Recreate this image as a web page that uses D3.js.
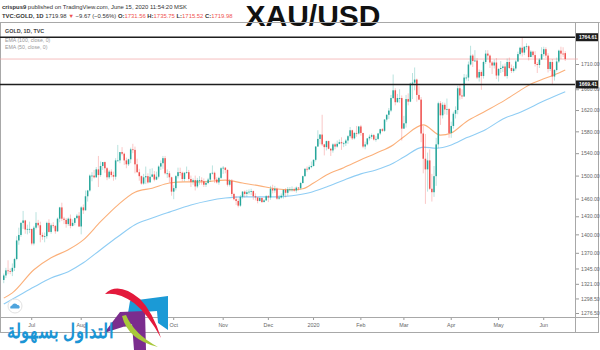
<!DOCTYPE html>
<html>
<head>
<meta charset="utf-8">
<title>XAU/USD</title>
<style>
body { margin: 0; background-color: #ffffff; }
svg text { font-family: "Liberation Sans", Arial, sans-serif; }
</style>
</head>
<body>
<script src="https://cdn.jsdelivr.net/npm/d3@7"></script>
<script>

// daily candles, 12 Jun 2019 .. 15 Jun 2020 (weekdays, no bar on 25 Dec / 1 Jan)
var startDate = "2019-06-12";
var holidays = ["2019-12-25", "2020-01-01"];

var opens = [1327,1334,1342,1341,1340,1346,1360,1390,1399,1419,1423,1408,1409,
  1409,1385,1411,1419,1415,1399,1396,1397,1419,1404,1415,1414,1405,1426,1445,1426,1424,1417,1426,1414,1419,1427,1431,
  1413,1445,1440,1464,1474,1500,1500,1497,1511,1501,1517,1524,1513,1497,1507,1501,1498,1527,1527,1542,1539,1527,
  1520,1529,1547,1546,1520,1506,1499,1486,1497,1499,1488,1498,1502,1493,1498,1516,1522,1531,1504,1504,1497,
  1472,1478,1499,1506,1505,1494,1505,1506,1494,1489,1492,1481,1492,1492,1490,1484,1487,1493,1504,1505,1493,1488,1496,
  1513,1514,1510,1484,1491,1468,1459,1456,1448,1463,1472,1468,1471,1472,1473,1464,1462,1456,1461,1454,1457,
  1464,1462,1477,1474,1477,1460,1462,1465,1475,1470,1476,1476,1476,1474,1479,1478,1487,1499,1512,1511,1515,
  1517,1528,1552,1566,1574,1556,1551,1562,1548,1545,1556,1552,1557,1560,1558,1558,1563,1571,1582,1567,1577,1576,
  1589,1577,1552,1556,1567,1570,1573,1565,1566,1576,1584,1581,1602,1611,1619,1643,1658,1635,1643,1643,
  1585,1595,1641,1636,1671,1673,1679,1649,1640,1576,1530,1511,1527,1477,1471,1499,1556,1633,1610,1630,1621,1622,
  1577,1590,1613,1620,1662,1648,1646,1683,1683,1709,1727,1716,1717,1683,1694,1686,1714,1731,1727,1713,1707,1713,
  1687,1700,1702,1705,1686,1714,1702,1696,1701,1715,1730,1743,1733,1745,1746,1724,1735,1728,1710,1708,1719,
  1730,1740,1727,1700,1714,1685,1698,1715,1737,1731,1732];
var highs = [1337,1346,1358,1345,1353,1362,1397,1411,1420,1439,1424,1416,1421,
  1409,1414,1437,1424,1421,1403,1403,1421,1425,1418,1420,1415,1428,1446,1453,1429,1427,1428,1433,1425,1428,1434,1437,
  1447,1450,1474,1475,1502,1506,1510,1515,1535,1525,1524,1525,1515,1510,1511,1507,1531,1555,1542,1551,1541,1532,
  1530,1550,1557,1552,1530,1512,1500,1503,1516,1504,1512,1513,1508,1507,1518,1527,1535,1535,1511,1508,1498,
  1483,1501,1514,1514,1507,1506,1516,1510,1500,1495,1500,1496,1499,1497,1495,1491,1496,1505,1518,1507,1497,1498,1515,
  1517,1515,1511,1494,1494,1470,1464,1460,1466,1473,1474,1475,1476,1477,1474,1469,1462,1463,1462,1459,1466,
  1466,1482,1484,1482,1479,1466,1469,1476,1478,1480,1480,1481,1479,1481,1480,1489,1500,1513,1516,1518,1525,
  1529,1553,1582,1575,1611,1557,1563,1563,1549,1558,1559,1563,1565,1569,1561,1566,1573,1588,1583,1579,1590,1590,
  1592,1577,1561,1567,1574,1576,1575,1571,1577,1585,1586,1603,1612,1624,1649,1689,1662,1651,1660,1648,
  1609,1649,1652,1673,1692,1703,1681,1666,1645,1590,1575,1541,1547,1503,1517,1568,1636,1637,1635,1634,1642,1624,
  1598,1617,1627,1667,1670,1660,1690,1689,1715,1747,1730,1738,1722,1699,1697,1717,1738,1738,1729,1716,1719,1722,
  1702,1716,1709,1711,1721,1723,1709,1706,1718,1735,1745,1765,1746,1752,1748,1738,1737,1736,1714,1722,1744,
  1745,1744,1732,1717,1720,1700,1723,1739,1745,1744,1736];
var lows = [1322,1330,1336,1336,1333,1341,1358,1383,1396,1409,1401,1400,1402,
  1382,1382,1408,1411,1387,1391,1387,1393,1403,1401,1410,1401,1404,1420,1422,1417,1411,1414,1410,1413,1415,1425,1412,
  1400,1434,1440,1455,1472,1490,1495,1496,1480,1498,1510,1505,1492,1494,1497,1491,1493,1525,1522,1536,1519,1513,
  1517,1522,1540,1504,1505,1491,1484,1484,1485,1486,1488,1497,1490,1492,1495,1510,1512,1502,1496,1488,1465,
  1459,1474,1495,1500,1490,1490,1503,1491,1480,1484,1474,1478,1484,1484,1480,1480,1485,1489,1502,1487,1486,1484,1494,
  1503,1504,1481,1481,1464,1457,1449,1445,1446,1460,1462,1463,1467,1466,1458,1457,1452,1455,1453,1454,1456,
  1454,1458,1469,1470,1458,1458,1460,1460,1462,1465,1472,1472,1472,1470,1474,1476,1486,1498,1507,1510,1513,
  1516,1525,1552,1556,1553,1536,1545,1547,1535,1541,1547,1550,1556,1546,1551,1553,1557,1568,1564,1565,1570,1574,
  1572,1549,1547,1554,1563,1566,1563,1561,1564,1573,1579,1579,1598,1603,1616,1641,1629,1634,1634,1563,
  1585,1587,1629,1635,1641,1658,1636,1639,1560,1504,1451,1472,1475,1455,1463,1482,1549,1592,1604,1612,1611,1568,
  1568,1585,1604,1612,1640,1641,1645,1677,1676,1707,1704,1714,1680,1675,1659,1681,1710,1719,1702,1690,1701,1680,
  1675,1692,1694,1684,1681,1700,1692,1693,1697,1714,1727,1725,1728,1739,1717,1724,1723,1705,1692,1702,1718,
  1725,1722,1693,1696,1670,1677,1695,1712,1720,1724,1716];
var closes = [1334,1342,1341,1340,1346,1360,1390,1399,1419,1423,1408,1409,1409,
  1385,1411,1419,1415,1399,1396,1397,1419,1404,1415,1414,1405,1426,1445,1426,1424,1417,1426,1414,1419,1427,1431,1413,
  1445,1440,1464,1474,1500,1500,1497,1511,1501,1517,1524,1513,1497,1507,1501,1498,1527,1527,1542,1539,1527,1520,
  1529,1547,1546,1520,1506,1499,1486,1497,1499,1488,1498,1502,1493,1498,1516,1522,1531,1504,1504,1497,1472,
  1478,1499,1506,1505,1494,1505,1506,1494,1489,1492,1481,1492,1492,1490,1484,1487,1493,1504,1505,1493,1488,1496,1513,
  1514,1510,1484,1491,1468,1459,1456,1448,1463,1472,1468,1471,1472,1473,1464,1462,1456,1461,1454,1457,1464,
  1462,1477,1474,1477,1460,1462,1465,1475,1470,1476,1476,1476,1474,1479,1478,1487,1499,1512,1511,1515,1517,
  1528,1552,1566,1574,1556,1551,1562,1548,1545,1556,1552,1557,1560,1558,1558,1563,1571,1582,1567,1577,1576,1589,
  1577,1552,1556,1567,1570,1573,1565,1566,1576,1584,1581,1602,1611,1619,1643,1658,1635,1643,1643,1585,
  1595,1641,1636,1671,1673,1679,1649,1640,1576,1530,1511,1527,1477,1471,1499,1556,1633,1610,1630,1621,1622,1577,
  1590,1613,1620,1662,1648,1646,1683,1683,1709,1727,1716,1717,1683,1694,1686,1714,1731,1727,1713,1707,1713,1687,
  1700,1702,1705,1686,1714,1702,1696,1701,1715,1730,1743,1733,1745,1746,1724,1735,1728,1710,1708,1719,1730,
  1740,1727,1700,1714,1685,1698,1715,1737,1731,1730,1719.98];

var ema50Days = [0,4,14,22,30,37,45,53,61,69,77,84,92,103,111,119,126,134,139,144,150,158,166,173,181,186,195,203,208,215,223,233,239,244,252,258,261];
var ema50 = [1299,1307,1343,1362,1375,1391,1421,1449,1471,1478,1487,1489,1489,1492,1487,1482,1477,1475,1477,1487,1501,1514,1528,1540,1555,1570,1592,1573,1577,1598,1616,1639,1655,1668,1682,1692,1698];
var ema100Days = [0,6,14,22,30,37,45,53,61,69,77,87,103,111,119,126,134,142,150,158,166,173,181,186,195,201,208,215,223,233,239,252,261];
var ema100 = [1290,1301,1316,1330,1340,1354,1375,1396,1416,1427,1437,1449,1461,1463,1463,1463,1465,1470,1480,1492,1503,1510,1522,1533,1551,1549,1555,1568,1581,1605,1614,1639,1655];

var priceTicks = [1276.5,1298.5,1321,1345,1370,1400,1430,1460,1500,1540,1580,1620,1660,1710];
var monthLabels = ["Jul","Aug","Sep","Oct","Nov","Dec","2020","Feb","Mar","Apr","May","Jun"];
var levels = [1764.61, 1669.41];
var lastPrice = 1719.98;

var w = 600, h = 350;
var plotRight = 575, axisBottom = 317;

// trading days
var parse = d3.timeParse("%Y-%m-%d");
var fmt = d3.timeFormat("%Y-%m-%d");
var dates = [];
var day = parse(startDate);
while (dates.length < closes.length) {
  var wd = day.getDay();
  if (wd != 0 && wd != 6 && holidays.indexOf(fmt(day)) < 0) dates.push(day);
  day = d3.timeDay.offset(day, 1);
}
var candles = dates.map(function(d, i) {
  return {date: d, o: opens[i], h: highs[i], l: lows[i], c: closes[i]};
});

var x = d3.scaleBand().domain(dates).range([3, 566]).paddingInner(0.3);
var xc = function(i) { return x(dates[i]) + x.bandwidth()/2; };
var y = d3.scaleLog().domain([1276.5, 1710]).range([313, 64]);

var svg = d3.select("body").append("svg")
  .attr("width", w).attr("height", h);

svg.append("rect").attr("width", w).attr("height", h).attr("fill", "#fff");

// header
var h1 = svg.append("text").attr("x", 2).attr("y", 8.5)
  .attr("font-size", 5.9).attr("fill", "#333");
h1.append("tspan").attr("font-weight", "bold").text("crispus9");
h1.append("tspan").text(" published on TradingView.com, June 15, 2020 11:54:20 MSK");

var h2 = svg.append("text").attr("x", 2).attr("y", 17.5)
  .attr("font-size", 5.9).attr("fill", "#333");
h2.append("tspan").attr("font-weight", "bold").text("TVC:GOLD, 1D");
h2.append("tspan").text(" 1719.98 ");
h2.append("tspan").attr("fill", "#ef5350").text("▼");
h2.append("tspan").text(" −9.67 (−0.56%) ");
[["O:", "1731.56"], ["H:", "1735.75"], ["L:", "1715.52"], ["C:", "1719.98"]].forEach(function(p, i) {
  h2.append("tspan").attr("font-weight", "bold").text((i ? " " : "") + p[0]);
  h2.append("tspan").attr("fill", "#ef5350").text(p[1]);
});

svg.append("line").attr("x1", 0).attr("x2", w).attr("y1", 22.5).attr("y2", 22.5)
  .attr("stroke", "#b8b8b8").attr("stroke-width", 1);

svg.append("text").attr("x", 313).attr("y", 26)
  .attr("text-anchor", "middle").attr("font-size", 30).attr("font-weight", "bold")
  .attr("fill", "#111").text("XAU/USD");

// frame
svg.append("rect").attr("x", 0.5).attr("y", 22.5).attr("width", 598).attr("height", 310)
  .attr("fill", "none").attr("stroke", "#a8a8a8");
svg.append("line").attr("x1", plotRight + 0.5).attr("x2", plotRight + 0.5).attr("y1", 22.5).attr("y2", 332.5)
  .attr("stroke", "#a8a8a8");
svg.append("line").attr("x1", 0).attr("x2", 599).attr("y1", axisBottom + 0.5).attr("y2", axisBottom + 0.5)
  .attr("stroke", "#a8a8a8");

// legend
svg.append("text").attr("x", 5).attr("y", 33).attr("font-size", 5.4).attr("fill", "#444")
  .attr("font-weight", "bold").text("GOLD, 1D, TVC");
svg.append("text").attr("x", 5).attr("y", 42).attr("font-size", 5.2).attr("fill", "#999")
  .text("EMA (100, close, 0)");
svg.append("text").attr("x", 5).attr("y", 49).attr("font-size", 5.2).attr("fill", "#999")
  .text("EMA (50, close, 0)");

// price axis
var yAxis = d3.axisRight(y).tickValues(priceTicks).tickFormat(d3.format(".2f")).tickSize(3).tickPadding(2);
var ya = svg.append("g").attr("transform", "translate(" + (plotRight + 1) + ",0)").call(yAxis);
ya.select(".domain").remove();
ya.selectAll("line").attr("stroke", "#999");
ya.selectAll("text").attr("font-size", 5.2).attr("fill", "#666").attr("font-family", "Liberation Sans, Arial, sans-serif");

// time axis: first trading day of each month
var monthStarts = [];
dates.forEach(function(d, i) {
  if (i > 0 && d.getMonth() != dates[i-1].getMonth()) monthStarts.push(i);
});
var xa = svg.append("g");
monthStarts.forEach(function(i, k) {
  xa.append("line").attr("x1", xc(i)).attr("x2", xc(i)).attr("y1", axisBottom + 1).attr("y2", axisBottom + 3)
    .attr("stroke", "#999");
  xa.append("text").attr("x", xc(i)).attr("y", 327).attr("text-anchor", "middle")
    .attr("font-size", 5.4).attr("fill", "#666").text(monthLabels[k]);
});

// last price line
svg.append("line").attr("x1", 0).attr("x2", plotRight + 3)
  .attr("y1", y(lastPrice)).attr("y2", y(lastPrice))
  .attr("stroke", "#f3a3a3").attr("stroke-width", 0.7);

// EMAs
var emaLine = d3.line()
  .x(function(d) { return xc(d[0]); })
  .y(function(d) { return y(d[1]); })
  .curve(d3.curveMonotoneX);
svg.append("path").datum(d3.zip(ema100Days, ema100)).attr("d", emaLine)
  .attr("fill", "none").attr("stroke", "#8fcdf4").attr("stroke-width", 1.1);
svg.append("path").datum(d3.zip(ema50Days, ema50)).attr("d", emaLine)
  .attr("fill", "none").attr("stroke", "#fbb07a").attr("stroke-width", 1.1);

// candles
var up = "#26a69a", down = "#ef5350";
var cg = svg.append("g").selectAll("g").data(candles).enter().append("g");
cg.append("line")
  .attr("x1", function(d) { return x(d.date) + x.bandwidth()/2; })
  .attr("x2", function(d) { return x(d.date) + x.bandwidth()/2; })
  .attr("y1", function(d) { return y(d.h); })
  .attr("y2", function(d) { return y(d.l); })
  .attr("stroke", function(d) { return d.c >= d.o ? up : down; })
  .attr("stroke-opacity", 0.4).attr("stroke-width", 0.8);
cg.append("rect")
  .attr("x", function(d) { return x(d.date); })
  .attr("width", x.bandwidth())
  .attr("y", function(d) { return y(Math.max(d.o, d.c)); })
  .attr("height", function(d) { return Math.max(0.8, Math.abs(y(d.o) - y(d.c))); })
  .attr("fill", function(d) { return d.c >= d.o ? up : down; });

// horizontal levels
levels.forEach(function(v) {
  svg.append("line").attr("x1", 0).attr("x2", plotRight).attr("y1", y(v)).attr("y2", y(v))
    .attr("stroke", "#1e1e1e").attr("stroke-width", 1.4);
  svg.append("rect").attr("x", plotRight + 1).attr("y", y(v) - 4).attr("width", 22).attr("height", 8)
    .attr("fill", "#1e1e1e");
  svg.append("text").attr("x", plotRight + 4).attr("y", y(v) + 1.8).attr("font-size", 5)
    .attr("font-weight", "bold").attr("fill", "#fff").text(d3.format(".2f")(v));
});

// tradingview badge
svg.append("circle").attr("cx", 15).attr("cy", 306).attr("r", 7)
  .attr("fill", "#fff").attr("stroke", "#e2e2e2");
svg.append("path").attr("d", "M10.5,308.5 a2,2 0 0 1 1.5,-3 a3,3 0 0 1 5.5,-0.5 a2,2 0 0 1 1.5,3.5 z")
  .attr("fill", "#4fa4dd");

// logo
var logo = svg.append("g");
logo.append("path").attr("d", "M130,301 L168,296 L168,330 L158,323 L157,311 L128,313 Z").attr("fill", "#1b9ad6");
logo.append("path").attr("d", "M120,312 L145,311 L146,350 L134,350 L132,324 L104,333 Z").attr("fill", "#7b2d8e");
logo.append("path").attr("d", "M122,316 Q128,340 158,347 Q134,334 126,315 Z").attr("fill", "#a8c83a");
logo.append("path").attr("d", "M105,294 Q118,281 140,299 Q153,312 161,338 Q148,314 134,303 Q119,292 105,294 Z").attr("fill", "#e3193b");
logo.append("text").attr("transform", "translate(60,338) scale(1,1.2)").attr("text-anchor", "middle")
  .attr("font-family", "DejaVu Sans").attr("font-weight", "bold").attr("font-size", 17)
  .attr("fill", "#1b95d5").text("التداول بسهولة");

</script>
</body>
</html>
